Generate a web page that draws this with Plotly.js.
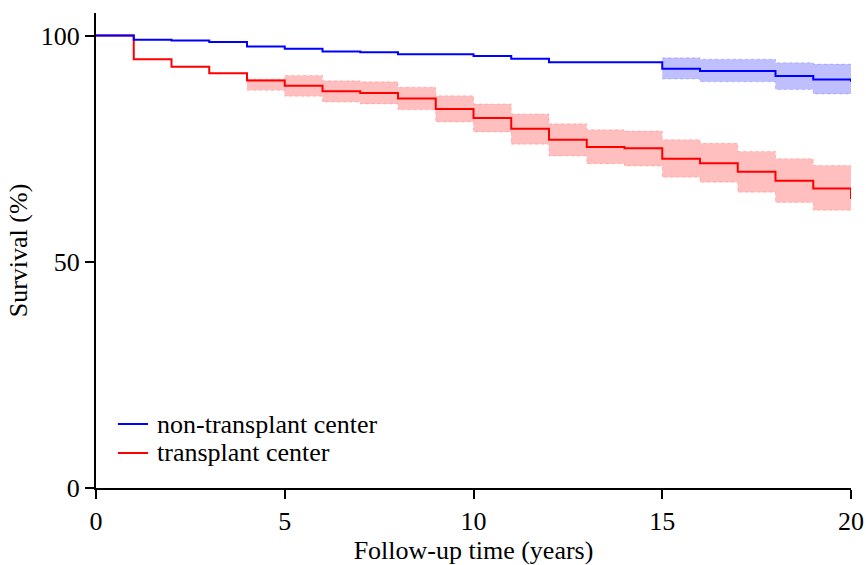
<!DOCTYPE html>
<html>
<head>
<meta charset="utf-8">
<script src="https://cdn.plot.ly/plotly-3.0.1.min.js"></script>
<style>
  html, body { margin: 0; padding: 0; background: #ffffff; }
  #chart { width: 866px; height: 565px; }
</style>
</head>
<body>
<div id="chart"></div>
<script>
// Kaplan-Meier survival by treating centre, yearly steps (years 0..20)
var years = [0, 1, 2, 3, 4, 5, 6, 7, 8, 9, 10, 11, 12, 13, 14, 15, 16, 17, 18, 19, 20];

var nonTransplant = [100, 99.1, 98.9, 98.6, 97.6, 97.1, 96.5, 96.3, 95.9, 95.9, 95.5,
                     94.9, 94.1, 94.1, 94.1, 92.7, 92.2, 92.2, 91.1, 90.3, 89.8];
var transplant    = [100, 94.8, 93.1, 91.7, 90.1, 88.9, 87.7, 87.3, 86.1, 83.8, 81.8,
                     79.4, 77.0, 75.4, 75.1, 72.8, 71.8, 69.9, 67.9, 66.2, 63.9];

// 95% confidence limits, shown where they are reported
var nonTransplantCiYears = [15, 16, 17, 18, 19, 20];
var nonTransplantUpper   = [95.1, 94.8, 94.8, 94.0, 93.7, 93.7];
var nonTransplantLower   = [90.4, 89.8, 89.8, 88.1, 87.1, 87.1];

var transplantCiYears = [4, 5, 6, 7, 8, 9, 10, 11, 12, 13, 14, 15, 16, 17, 18, 19, 20];
var transplantUpper   = [90.4, 91.2, 90.0, 89.8, 88.6, 86.7, 84.9, 82.7, 80.5, 79.2, 78.9,
                         77.0, 76.2, 74.4, 72.8, 71.3, 71.3];
var transplantLower   = [87.9, 86.6, 85.3, 84.9, 83.6, 80.9, 78.7, 76.0, 73.4, 71.7, 71.2,
                         68.7, 67.6, 65.4, 63.1, 61.4, 61.4];

var seriesNames = ['non-transplant center', 'transplant center'];
var xTicks = [0, 5, 10, 15, 20];
var yTicks = [0, 50, 100];

var BLUE = '#0000ff', RED = '#ff0000';
var SERIF = 'Liberation Serif, Times New Roman, Times, serif';
var FS = 26;

function band(xs, lo, hi, fillCol, edgeCol) {
  var edge = {color: edgeCol, width: 1, dash: 'dot', shape: 'hv'};
  return [
    {x: xs, y: lo, type: 'scatter', mode: 'lines', line: edge,
     hoverinfo: 'skip', showlegend: false},
    {x: xs, y: hi, type: 'scatter', mode: 'lines', line: edge,
     fill: 'tonexty', fillcolor: fillCol, hoverinfo: 'skip', showlegend: false}
  ];
}

// bands underneath, then the red curve, then the blue curve on top
var traces = []
  .concat(band(transplantCiYears, transplantLower, transplantUpper,
               'rgba(255,0,0,0.25)', 'rgba(255,0,0,0.18)'))
  .concat(band(nonTransplantCiYears, nonTransplantLower, nonTransplantUpper,
               'rgba(0,0,255,0.25)', 'rgba(0,0,255,0.18)'))
  .concat([
    {x: years, y: transplant, type: 'scatter', mode: 'lines', name: seriesNames[1],
     line: {color: RED, width: 2, shape: 'hv'}, showlegend: false},
    {x: years, y: nonTransplant, type: 'scatter', mode: 'lines', name: seriesNames[0],
     line: {color: BLUE, width: 2, shape: 'hv'}, showlegend: false}
  ]);

var axisCommon = {
  showgrid: false, zeroline: false, showline: true, linecolor: '#000', linewidth: 2,
  ticks: 'outside', ticklen: 9, tickwidth: 2, tickcolor: '#000',
  tickfont: {family: SERIF, size: FS, color: '#000'}
};

// legend key drawn as short line segments with text beside them
var keyColors = [BLUE, RED];
var keyY = [0.1347, 0.0737];
var shapes = [], annotations = [];
keyColors.forEach(function (c, i) {
  shapes.push({type: 'line', xref: 'paper', yref: 'paper',
               x0: 0.029, x1: 0.069, y0: keyY[i], y1: keyY[i],
               line: {color: c, width: 2}});
  annotations.push({xref: 'paper', yref: 'paper', x: 0.08, y: keyY[i],
                    xanchor: 'left', yanchor: 'middle', showarrow: false,
                    borderpad: 0,
                    text: seriesNames[i],
                    font: {family: SERIF, size: FS, color: '#000'}});
});

var layout = {
  width: 866, height: 565,
  margin: {l: 96, r: 15, t: 13, b: 77},
  paper_bgcolor: '#fff', plot_bgcolor: '#fff',
  showlegend: false,
  font: {family: SERIF, color: '#000'},
  xaxis: Object.assign({}, axisCommon, {
    range: [0, 20], tickvals: xTicks, ticktext: xTicks.map(String),
    title: {text: 'Follow-up time (years)', standoff: 6,
            font: {family: SERIF, size: FS, color: '#000'}}
  }),
  yaxis: Object.assign({}, axisCommon, {
    range: [0, 105], tickvals: yTicks, ticktext: yTicks.map(String),
    title: {text: 'Survival (%)', standoff: 6,
            font: {family: SERIF, size: FS, color: '#000'}}
  }),
  shapes: shapes,
  annotations: annotations
};

Plotly.newPlot('chart', traces, layout, {displayModeBar: false, staticPlot: true});
</script>
</body>
</html>
